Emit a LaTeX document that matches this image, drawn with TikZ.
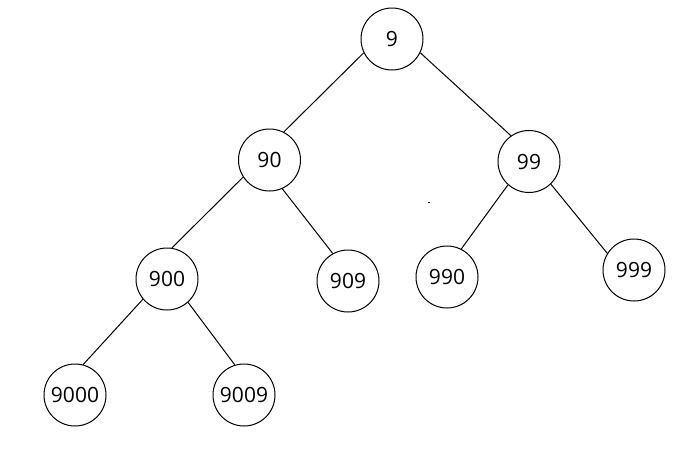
\documentclass[tikz,border=0pt]{standalone}
\usepackage{fontspec}
\setmainfont{Open Sans}
\begin{document}
\begin{tikzpicture}[x=1pt,y=-1pt,
  treenode/.style={circle,draw,line width=1pt,minimum size=62pt,inner sep=0pt,font=\fontsize{21}{23}\selectfont},
  edge/.style={line width=1pt}]
\useasboundingbox[fill=white] (0,0) rectangle (694,464);
\node[treenode] (n9) at (392,39) {9};
\node[treenode] (n90) at (269.5,160) {90};
\node[treenode] (n99) at (529,161.5) {99};
\node[treenode] (n900) at (167,279) {900};
\node[treenode] (n909) at (348,281) {909};
\node[treenode] (n990) at (447,277) {990};
\node[treenode] (n999) at (634,270) {999};
\node[treenode] (n9000) at (75,395) {9000};
\node[treenode] (n9009) at (244,395) {9009};
\draw[edge] (n9.206) -- (n90.63);
\draw[edge] (n9.334) -- (n99.125);
\draw[edge] (n90.213) -- (n900.81);
\draw[edge] (n90.294) -- (n909.119);
\draw[edge] (n99.228) -- (n990.63);
\draw[edge] (n99.314) -- (n999.148);
\draw[edge] (n900.220) -- (n9000.75);
\draw[edge] (n900.312) -- (n9009.107);
\fill (428,201.5) rectangle (430,202.8);
\end{tikzpicture}
\end{document}
